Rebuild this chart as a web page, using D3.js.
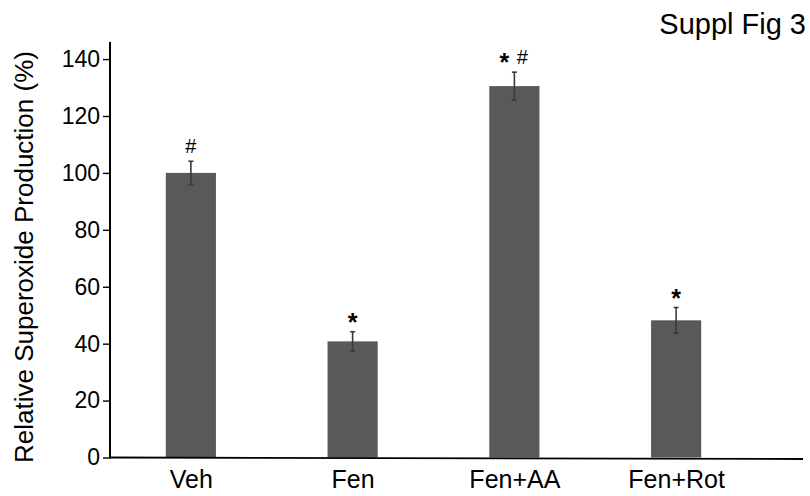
<!DOCTYPE html>
<html>
<head>
<meta charset="utf-8">
<script src="https://cdn.jsdelivr.net/npm/d3@7"></script>
<style>
  body { margin: 0; background: #fff; }
  svg { display: block; }
  svg text { font-family: "Liberation Sans", Arial, Helvetica, sans-serif; }
</style>
</head>
<body>
<svg id="chart" width="810" height="496"></svg>
<script>
const categories = ["Veh", "Fen", "Fen+AA", "Fen+Rot"];
const values = [100, 40.8, 130.5, 48.2];
const errors = [4.1, 3.4, 4.9, 4.5];
const annotations = ["#", "*", "*#", "*"];
const yTicks = [0, 20, 40, 60, 80, 100, 120, 140];
const yLabel = "Relative Superoxide Production (%)";
const title = "Suppl Fig 3";

const svg = d3.select("#chart");
const x0 = 110, xEnd = 803, yBase = 457.5, yTop = 42;
const FONT = "Liberation Sans, Arial, Helvetica, sans-serif";

const x = d3.scalePoint().domain(categories).range([x0, 757]).padding(0.5);
const barW = x.step() * 0.31;
const y = d3.scaleLinear().domain([0, 146]).range([yBase, yTop]);

// bars
svg.append("g").selectAll("rect")
  .data(categories)
  .join("rect")
  .attr("x", (d) => x(d) - barW / 2)
  .attr("width", barW)
  .attr("y", (d, i) => y(values[i]))
  .attr("height", (d, i) => y(0) - y(values[i]))
  .attr("fill", "#595959");

// error bars
const eg = svg.append("g").attr("stroke", "#3a3a3a").attr("stroke-width", 1.6);
categories.forEach((c, i) => {
  const cx = x(c);
  const t = y(values[i] + errors[i]), b = y(values[i] - errors[i]);
  eg.append("line").attr("x1", cx).attr("x2", cx).attr("y1", t).attr("y2", b);
  eg.append("line").attr("x1", cx - 2.5).attr("x2", cx + 2.5).attr("y1", t).attr("y2", t);
  eg.append("line").attr("x1", cx - 2.5).attr("x2", cx + 2.5).attr("y1", b).attr("y2", b);
});

// annotations
const ag = svg.append("g").attr("fill", "#000");
categories.forEach((c, i) => {
  const chars = annotations[i].split("");
  const centerY = y(values[i] + errors[i]) - 15;
  chars.forEach((ch, k) => {
    const off = chars.length > 1 ? (k === 0 ? -10 : 8) : 0;
    const t = ag.append("text")
      .attr("x", x(c) + off)
      .attr("text-anchor", "middle")
      .text(ch);
    if (ch === "*") {
      t.attr("y", centerY + 14).style("font-size", "25px").style("font-weight", "bold");
    } else {
      t.attr("y", centerY + 7).style("font-size", "20px");
    }
  });
});

// y axis
const yAxis = d3.axisLeft(y).tickValues(yTicks).tickSize(7).tickPadding(3).tickSizeOuter(0);
const ya = svg.append("g").attr("transform", `translate(${x0},0)`).call(yAxis)
  .attr("font-family", FONT).attr("font-size", 23);
ya.select(".domain").remove();
ya.selectAll(".tick line").attr("stroke", "#000").attr("stroke-width", 1.4);
ya.selectAll(".tick text").attr("fill", "#000");
svg.append("line").attr("x1", x0).attr("x2", x0).attr("y1", yTop).attr("y2", yBase + 1)
  .attr("stroke", "#000").attr("stroke-width", 2);

// x axis
const xAxis = d3.axisBottom(x).tickSize(0).tickPadding(13);
const xa = svg.append("g").attr("transform", `translate(0,${yBase})`).call(xAxis)
  .attr("font-family", FONT).attr("font-size", 25);
xa.select(".domain").remove();
xa.selectAll(".tick text").attr("fill", "#000");
svg.append("line").attr("x1", x0).attr("x2", xEnd).attr("y1", yBase).attr("y2", yBase + 1.5)
  .attr("stroke", "#000").attr("stroke-width", 1.8);

// y label
svg.append("text")
  .attr("transform", `translate(33,257) rotate(-90)`)
  .attr("text-anchor", "middle")
  .attr("font-family", FONT)
  .attr("font-size", 26)
  .attr("fill", "#000")
  .text(yLabel);

// title
svg.append("text")
  .attr("x", 806).attr("y", 34)
  .attr("text-anchor", "end")
  .attr("font-family", FONT)
  .attr("font-size", 29)
  .attr("fill", "#000")
  .text(title);
</script>
</body>
</html>
